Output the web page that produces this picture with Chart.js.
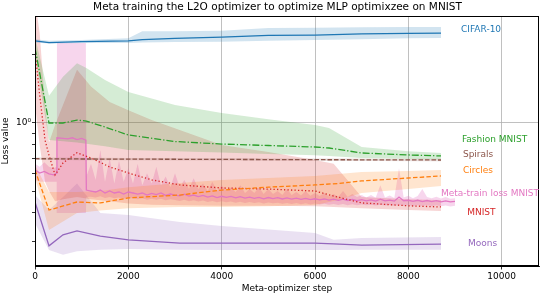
<!DOCTYPE html>
<html><head><meta charset="utf-8">
<script src="https://cdn.jsdelivr.net/npm/chart.js@4"></script>
<style>html,body{margin:0;padding:0;background:#fff}</style>
</head><body>
<canvas id="c" width="540" height="294"></canvas>
<script>
// ---- data ----
const cifarSteps = [0,300,1000,2000,2300,3000,4000,5000,6000,7000,8000,8700];
const cifarLoss  = [2.31,2.27,2.29,2.31,2.34,2.37,2.40,2.44,2.45,2.48,2.49,2.50];
const cifarHi    = [2.35,2.31,2.33,2.37,2.55,2.55,2.56,2.63,2.64,2.65,2.66,2.66];
const cifarLo    = [2.27,2.25,2.26,2.26,2.27,2.28,2.29,2.31,2.33,2.35,2.37,2.38];

const fashionSteps = [0,300,600,900,1100,1500,2000,3000,4000,5000,6000,6300,7000,8000,8700];
const fashionLoss  = [2.15,1.0,1.0,1.03,1.02,0.96,0.885,0.828,0.807,0.795,0.783,0.775,0.737,0.722,0.715];
const fashionHi    = [2.4,1.32,1.6,1.84,1.75,1.55,1.37,1.20,1.107,1.04,0.98,0.95,0.783,0.75,0.737];
const fashionLo    = [2.0,0.84,0.83,0.82,0.81,0.79,0.76,0.75,0.74,0.73,0.72,0.715,0.70,0.695,0.69];

const spiralsSteps = [0,1000,2000,4000,6000,8700];
const spiralsLoss  = [0.695,0.693,0.692,0.690,0.688,0.686];
const spiralsHi    = [0.703,0.701,0.700,0.698,0.696,0.694];
const spiralsLo    = [0.687,0.685,0.684,0.682,0.680,0.678];

const circlesSteps = [0,300,900,1400,2000,3100,4000,5000,6000,6500,7000,8000,8700];
const circlesLoss  = [0.619,0.412,0.447,0.443,0.466,0.48,0.505,0.52,0.532,0.54,0.554,0.571,0.583];
const circlesHi    = [0.652,0.495,0.495,0.50,0.52,0.542,0.56,0.571,0.583,0.595,0.607,0.613,0.619];
const circlesLo    = [0.575,0.336,0.40,0.41,0.42,0.425,0.425,0.428,0.434,0.456,0.49,0.51,0.526];

const mnistSteps = [0,100,215,300,430,600,900,1200,1600,2000,2500,3100,4000,5000,6000,6400,7000,8000,8700];
const mnistLoss  = [2.1,1.33,0.84,0.72,0.589,0.665,0.739,0.70,0.639,0.601,0.56,0.532,0.516,0.51,0.50,0.475,0.443,0.43,0.425];
const mnistHi    = [3.5,2.5,1.2,0.82,0.98,1.2,1.72,1.45,1.24,1.14,1.03,0.93,0.80,0.744,0.686,0.66,0.47,0.46,0.456];
const mnistLo    = [1.2,0.8,0.55,0.5,0.45,0.46,0.47,0.46,0.45,0.44,0.435,0.432,0.43,0.43,0.428,0.425,0.42,0.412,0.408];

const moonsSteps = [0,300,600,900,1400,2000,3100,4000,6000,6400,7000,8700];
const moonsLoss  = [0.447,0.286,0.32,0.333,0.316,0.304,0.294,0.294,0.294,0.292,0.288,0.291];
const moonsHi    = [0.48,0.412,0.47,0.54,0.40,0.392,0.365,0.35,0.326,0.304,0.31,0.313];
const moonsLo    = [0.36,0.274,0.261,0.271,0.275,0.277,0.275,0.274,0.274,0.274,0.275,0.275];

const metaSteps = [0,100,200,300,400,465,470,600,700,800,900,1000,1090,1100,
  1200,1300,1400,1500,1600,1700,1800,1900,2000,
  2100,2200,2300,2400,2500,2600,2700,2800,2900,3000,
  3100,3200,3300,3400,3500,3600,3700,3800,3900,4000,
  4100,4200,4300,4400,4500,4600,4700,4800,4900,5000,
  5100,5200,5300,5400,5500,5600,5700,5800,5900,6000,
  6100,6200,6300,6400,6500,6600,6700,6800,6900,7000,
  7100,7200,7300,7400,7500,7600,7700,7800,7900,8000,
  8100,8200,8300,8400,8500,8600,8700,8800,8900,9000];
const metaLoss = [0.62,0.60,0.61,0.595,0.59,0.60,0.86,0.855,0.85,0.86,0.845,0.855,0.84,0.505,
  0.50,0.495,0.505,0.49,0.50,0.49,0.495,0.485,0.495,
  0.49,0.485,0.49,0.48,0.488,0.482,0.49,0.478,0.485,0.48,
  0.476,0.484,0.475,0.48,0.472,0.478,0.47,0.476,0.468,0.474,
  0.469,0.473,0.466,0.472,0.465,0.47,0.464,0.469,0.462,0.468,
  0.463,0.467,0.461,0.466,0.46,0.465,0.459,0.464,0.458,0.462,
  0.457,0.461,0.456,0.46,0.455,0.46,0.454,0.459,0.453,0.458,
  0.452,0.457,0.451,0.46,0.452,0.456,0.451,0.47,0.453,0.455,
  0.45,0.455,0.449,0.454,0.449,0.453,0.448,0.452,0.448,0.45];
const metaHi = [0.66,0.64,0.67,0.64,0.63,0.64,2.26,2.26,2.26,2.26,2.26,2.26,2.26,0.58,
  0.66,0.56,0.76,0.55,0.70,0.54,0.68,0.55,0.63,
  0.54,0.66,0.53,0.60,0.54,0.64,0.53,0.58,0.52,0.60,
  0.52,0.56,0.51,0.57,0.51,0.54,0.50,0.55,0.50,0.53,
  0.50,0.52,0.495,0.53,0.49,0.51,0.49,0.52,0.485,0.51,
  0.485,0.50,0.48,0.51,0.48,0.495,0.478,0.50,0.476,0.49,
  0.475,0.49,0.473,0.485,0.472,0.50,0.47,0.485,0.47,0.48,
  0.468,0.48,0.467,0.53,0.468,0.478,0.466,0.63,0.468,0.476,
  0.465,0.475,0.51,0.47,0.464,0.472,0.463,0.47,0.462,0.465];
const metaLo = [0.56,0.55,0.55,0.55,0.55,0.55,0.40,0.40,0.40,0.40,0.40,0.40,0.40,0.47,
  0.472,0.468,0.474,0.466,0.47,0.465,0.468,0.462,0.467,
  0.463,0.46,0.464,0.457,0.462,0.458,0.462,0.455,0.46,0.456,
  0.452,0.458,0.451,0.455,0.449,0.454,0.447,0.452,0.446,0.45,
  0.446,0.449,0.444,0.448,0.443,0.447,0.442,0.446,0.44,0.445,
  0.441,0.444,0.439,0.443,0.438,0.442,0.437,0.441,0.436,0.44,
  0.436,0.439,0.435,0.438,0.434,0.438,0.433,0.437,0.432,0.436,
  0.432,0.435,0.431,0.435,0.431,0.434,0.43,0.434,0.43,0.433,
  0.429,0.433,0.429,0.432,0.428,0.432,0.428,0.431,0.427,0.43];

const xTicks = [0,2000,4000,6000,8000,10000];
const yTicks = [0.3,0.4,0.5,0.6,0.7,0.8,0.9,1,2];
const seriesLabels = ['CIFAR-10','Fashion MNIST','Spirals','Circles','Meta-train loss MNIST','MNIST','Moons'];
const labelAnchorX = [9130,9150,9170,9170,8700,9260,9280];
const labelAnchorY = [2.58,0.841,0.722,0.613,0.485,0.40,0.291];

// ---- styles ----
const C = {blue:'#1f77b4',orange:'#ff7f0e',green:'#2ca02c',red:'#d62728',purple:'#9467bd',brown:'#8c564b',pink:'#e377c2'};
const rgba=(h,a)=>{const n=parseInt(h.slice(1),16);return `rgba(${n>>16},${(n>>8)&255},${n&255},${a})`;};
const labelColors=[C.blue,C.green,C.brown,C.orange,C.pink,C.red,C.purple];
const pts=(xs,ys)=>xs.map((x,i)=>({x,y:ys[i]}));
const FONT='DejaVu Sans';

const lines=[], bands=[];
function addSeries(steps,loss,hi,lo,color,dash,alpha){
  lines.push({data:pts(steps,loss),borderColor:color,borderWidth:1.3,borderDash:dash,pointRadius:0,fill:false,tension:0});
  bands.push({data:pts(steps,hi),borderWidth:0,borderColor:'transparent',pointRadius:0,backgroundColor:rgba(color,alpha),fill:'+1',tension:0});
  bands.push({data:pts(steps,lo),borderWidth:0,borderColor:'transparent',pointRadius:0,fill:false,tension:0});
}
addSeries(cifarSteps,cifarLoss,cifarHi,cifarLo,C.blue,[],0.2);
addSeries(fashionSteps,fashionLoss,fashionHi,fashionLo,C.green,[7,2,1.3,2],0.2);
addSeries(spiralsSteps,spiralsLoss,spiralsHi,spiralsLo,C.brown,[4.5,2],0.2);
addSeries(circlesSteps,circlesLoss,circlesHi,circlesLo,C.orange,[4.5,2.2],0.2);
addSeries(mnistSteps,mnistLoss,mnistHi,mnistLo,C.red,[1.3,2.2],0.2);
addSeries(moonsSteps,moonsLoss,moonsHi,moonsLo,C.purple,[],0.2);
addSeries(metaSteps,metaLoss,metaHi,metaLo,C.pink,[],0.3);
// lines first (drawn on top), bands after
const datasets=[...lines,...bands];

const overlay={
  id:'overlay',
  afterDraw(chart){
    const {ctx,chartArea:a,scales:{x,y}}=chart;
    ctx.save();
    ctx.strokeStyle='#000';ctx.lineWidth=1;
    ctx.strokeRect(a.left+0.5,a.top+0.5,a.right-a.left-1,a.bottom-a.top-1);
    ctx.font=`9px "${FONT}"`;ctx.textBaseline='middle';ctx.textAlign='left';
    seriesLabels.forEach((t,i)=>{ctx.fillStyle=labelColors[i];ctx.fillText(t,x.getPixelForValue(labelAnchorX[i]),y.getPixelForValue(labelAnchorY[i]));});
    ctx.fillStyle='#000';ctx.font=`10.5px "${FONT}"`;ctx.textAlign='center';
    ctx.fillText('Meta training the L2O optimizer to optimize MLP optimixzee on MNIST',277.5,7);
    ctx.restore();
  }
};

new Chart(document.getElementById('c'),{
  type:'line',
  data:{datasets},
  plugins:[overlay],
  options:{
    responsive:false,animation:false,devicePixelRatio:1,
    layout:{padding:{top:16,right:1,left:0,bottom:0}},
    plugins:{legend:{display:false},tooltip:{enabled:false},title:{display:false}},
    scales:{
      x:{type:'linear',min:0,max:10800,
        afterBuildTicks:s=>{s.ticks=xTicks.map(v=>({value:v}));},
        afterFit:s=>{s.height=28;},
        ticks:{callback:v=>String(v),font:{family:FONT,size:9},color:'#000',padding:2,maxRotation:0},
        grid:{color:c=>c.tick&&c.tick.value===0?'transparent':'#b0b0b0',lineWidth:0.8,tickColor:'#000',tickLength:3.5,tickWidth:0.8},
        border:{display:true,color:'#000',width:1},
        title:{display:true,text:'Meta-optimizer step',font:{family:FONT,size:9},color:'#000',padding:{top:0,bottom:0}}
      },
      y:{type:'logarithmic',min:0.2329,max:2.975,
        afterBuildTicks:s=>{s.ticks=yTicks.map(v=>({value:v,major:v===1}));},
        afterFit:s=>{s.width=35;},
        ticks:{callback:v=>v===1?'10⁰':'',font:{family:FONT,size:9},color:'#000',padding:1,autoSkip:false},
        grid:{color:c=>c.tick&&c.tick.value===1?'#b0b0b0':'transparent',lineWidth:0.8,tickColor:'#000',tickLength:3,tickWidth:0.8},
        border:{display:true,color:'#000',width:1},
        title:{display:true,text:'Loss value',font:{family:FONT,size:9},color:'#000',padding:{top:0,bottom:0}}
      }
    }
  }
});
</script></body></html>
